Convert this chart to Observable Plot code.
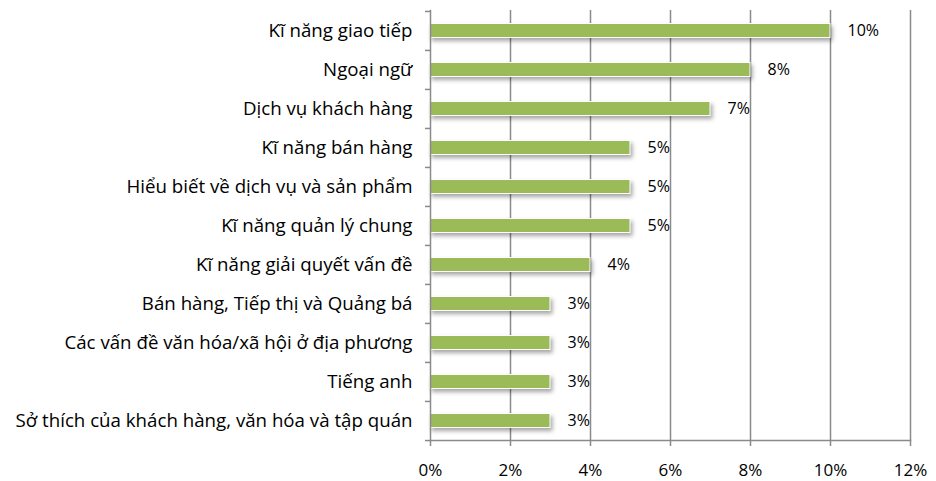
<!DOCTYPE html>
<html><head><meta charset="utf-8">
<script src="https://cdn.jsdelivr.net/npm/d3@7"></script>
<script src="https://cdn.jsdelivr.net/npm/@observablehq/plot@0.6"></script>
<style>
body{margin:0;background:#fff;}
g[aria-label="bar"] rect{filter: drop-shadow(2px 3px 2px rgba(0,0,0,0.35));}
</style></head><body><div id="chart"></div>
<script>
const categories = [
  "Kĩ năng giao tiếp",
  "Ngoại ngữ",
  "Dịch vụ khách hàng",
  "Kĩ năng bán hàng",
  "Hiểu biết về dịch vụ và sản phẩm",
  "Kĩ năng quản lý chung",
  "Kĩ năng giải quyết vấn đề",
  "Bán hàng, Tiếp thị và Quảng bá",
  "Các vấn đề văn hóa/xã hội ở địa phương",
  "Tiếng anh",
  "Sở thích của khách hàng, văn hóa và tập quán"
];
const values = [10, 8, 7, 5, 5, 5, 4, 3, 3, 3, 3];
const xTicks = [0, 2, 4, 6, 8, 10, 12];

const data = categories.map((c, i) => ({skill: c, value: values[i]}));
const W = 936, H = 481, mT = 10, mB = 41, mL = 430, mR = 26;
const step = (H - mT - mB) / categories.length;
const gridColor = "#8a8a8a";

const chart = Plot.plot({
  width: W, height: H,
  marginLeft: mL, marginRight: mR, marginTop: mT, marginBottom: mB,
  style: {fontFamily: "'Open Sans', sans-serif", fontSize: "16px", color: "#000", background: "#fff"},
  x: {domain: [0, 12], ticks: xTicks, tickFormat: d => d + "%"},
  y: {domain: categories, padding: 0},
  marks: [
    Plot.ruleX(xTicks.slice(1), {stroke: gridColor, strokeWidth: 1.5}),
    Plot.barX(data, {x: "value", y: "skill", fill: "#9bbb59", stroke: "#fff", strokeWidth: 1, insetTop: 12.5, insetBottom: 12.5}),
    Plot.frame({anchor: "left", stroke: gridColor, strokeWidth: 1.5}),
    Plot.frame({anchor: "bottom", stroke: gridColor, strokeWidth: 1.5}),
    Plot.ruleY(categories, {y: d => d, x1: -0.125, x2: 0, dy: -step / 2, stroke: gridColor, strokeWidth: 1.5}),
    Plot.ruleY(categories.slice(-1), {y: d => d, x1: -0.125, x2: 0, dy: step / 2, stroke: gridColor, strokeWidth: 1.5}),
    Plot.axisX({ticks: xTicks, tickFormat: d => d + "%", tickSize: 6, tickPadding: 17, stroke: gridColor, strokeWidth: 1.5, fontSize: 17, label: null}),
    Plot.axisY({tickSize: 0, tickPadding: 18, fontSize: 18.7, label: null}),
    Plot.text(data, {x: "value", y: "skill", text: d => d.value + "%", textAnchor: "start", dx: 17, fontSize: 16, fill: "#000"})
  ]
});
document.getElementById("chart").appendChild(chart);
</script></body></html>
